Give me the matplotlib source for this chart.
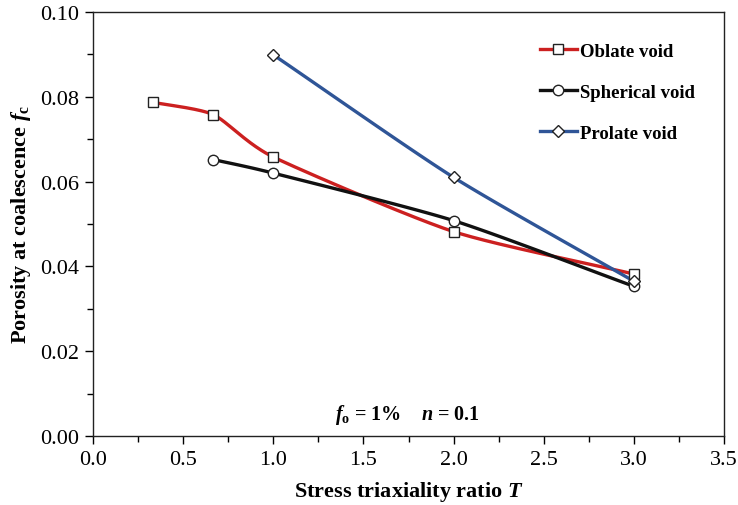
import numpy as np
import matplotlib
matplotlib.use('Agg')
import matplotlib.pyplot as plt
from matplotlib.ticker import MultipleLocator, FormatStrFormatter

plt.rcParams['font.family'] = 'Liberation Serif'
plt.rcParams['mathtext.fontset'] = 'custom'
plt.rcParams['mathtext.rm'] = 'Liberation Serif:bold'
plt.rcParams['mathtext.it'] = 'Liberation Serif:italic:bold'
plt.rcParams['mathtext.bf'] = 'Liberation Serif:bold'

# datos
T_oblate = [1/3, 2/3, 1.0, 2.0, 3.0]
f_oblate = [0.0787, 0.0758, 0.0658, 0.0482, 0.0382]

T_spher = [2/3, 1.0, 2.0, 3.0]
f_spher = [0.0652, 0.0620, 0.0508, 0.0353]

T_prol = [1.0, 2.0, 3.0]
f_prol = [0.0899, 0.0610, 0.0365]


def suavizar(x, y, n=40):
    # curva suavizada tipo Catmull-Rom (como las lineas suavizadas de Excel)
    x = np.asarray(x, float)
    y = np.asarray(y, float)
    px = np.concatenate([[2*x[0]-x[1]], x, [2*x[-1]-x[-2]]])
    py = np.concatenate([[2*y[0]-y[1]], y, [2*y[-1]-y[-2]]])
    xs, ys = [], []
    t = np.linspace(0, 1, n)
    for i in range(1, len(px)-2):
        p0, p1, p2, p3 = [np.array([px[j], py[j]]) for j in range(i-1, i+3)]
        # tension reducida
        m1 = (p2 - p0) / 2 * 0.67
        m2 = (p3 - p1) / 2 * 0.67
        h00 = 2*t**3 - 3*t**2 + 1
        h10 = t**3 - 2*t**2 + t
        h01 = -2*t**3 + 3*t**2
        h11 = t**3 - t**2
        pts = np.outer(h00, p1) + np.outer(h10, m1) + np.outer(h01, p2) + np.outer(h11, m2)
        xs.extend(pts[:, 0])
        ys.extend(pts[:, 1])
    return np.array(xs), np.array(ys)


fig = plt.figure(figsize=(7.38, 5.06), dpi=100)
ax = fig.add_axes([93/738, 69/506, 631/738, 424/506])

series = [
    (T_oblate, f_oblate, '#cc2020', 's', 'Oblate void'),
    (T_spher, f_spher, '#111111', 'o', 'Spherical void'),
    (T_prol, f_prol, '#2f5597', 'D', 'Prolate void'),
]

for xs, ys, col, mk, lab in series:
    ms = 7.5 if mk != 'D' else 6.5
    sx, sy = suavizar(xs, ys)
    ax.plot(sx, sy, color=col, linewidth=2.4, zorder=3)
    ax.plot(xs, ys, linestyle='none', marker=mk, markersize=ms,
            markerfacecolor='white', markeredgecolor='#222222', markeredgewidth=1.0, zorder=4)
    ax.plot([], [], color=col, linewidth=2.4, marker=mk, markersize=ms,
            markerfacecolor='white', markeredgecolor='#222222', markeredgewidth=1.0, label=lab)

ax.set_xlim(0, 3.5)
ax.set_ylim(0, 0.10)
ax.xaxis.set_major_locator(MultipleLocator(0.5))
ax.xaxis.set_minor_locator(MultipleLocator(0.25))
ax.yaxis.set_major_locator(MultipleLocator(0.02))
ax.yaxis.set_minor_locator(MultipleLocator(0.01))
ax.xaxis.set_major_formatter(FormatStrFormatter('%.1f'))
ax.yaxis.set_major_formatter(FormatStrFormatter('%.2f'))
ax.tick_params(which='major', direction='out', length=6, width=1, labelsize=16, pad=4)
ax.tick_params(which='minor', direction='out', length=4, width=1)
for s in ax.spines.values():
    s.set_linewidth(1.0)
    s.set_color('#222222')

ax.set_xlabel('Stress triaxiality ratio $\\mathit{T}$', fontsize=16, fontweight='bold', labelpad=7)
ax.set_ylabel('Porosity at coalescence $\\mathit{f}_\\mathbf{c}$', fontsize=16, fontweight='bold', labelpad=5)

ax.text(1.745, 0.0052, '$\\mathit{f}_\\mathbf{o}$ = 1%    $\\mathit{n}$ = 0.1', fontsize=14.5,
        fontweight='bold', ha='center', va='center')

leg = ax.legend(loc='upper left', bbox_to_anchor=(0.708, 0.928), frameon=False,
                borderpad=0, borderaxespad=0,
                fontsize=13.5, handlelength=2.0, handletextpad=0.15, labelspacing=1.28)
for t in leg.get_texts():
    t.set_fontweight('bold')

plt.savefig('out.png', dpi=100)
